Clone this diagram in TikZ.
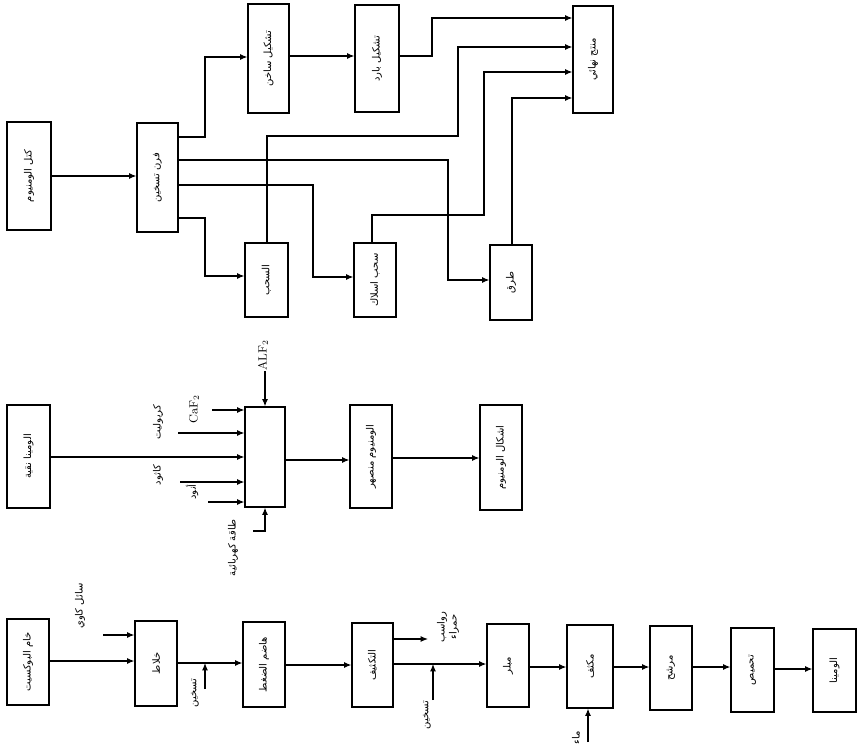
\documentclass[tikz,border=0pt]{standalone}
\usepackage{fontspec}
\usetikzlibrary{arrows.meta}
\newfontfamily\arfont[Script=Arabic]{DejaVu Sans}
\TeXXeTstate=1
\newcommand\artx[1]{\beginR #1\endR}
\newcommand\mkbox[5]{\node[box, minimum width={(#4-#2)*0.75pt}, minimum height={(#5-#3)*0.75pt}] (#1) at ({(#2+#4)/2},{(#3+#5)/2}) {};}
\begin{document}
\begin{tikzpicture}[x=0.75pt,y=-0.75pt,
  box/.style={draw, line width=0.9pt, inner sep=0pt},
  ln/.style={line width=0.9pt},
  arr/.style={line width=0.9pt, -{Latex[length=5.5pt,width=4.5pt]}},
  txt/.style={rotate=90, font=\arfont\fontsize{7.5}{9}\selectfont, inner sep=1pt, align=center},
  lat/.style={rotate=90, font=\fontsize{9}{10}\selectfont, inner sep=1pt}]
\useasboundingbox[fill=white] (0,0) rectangle (857,756);

% ---------- top row ----------
\mkbox{ingot}{7}{122}{51}{230}
\mkbox{furn}{137}{123}{178}{232}
\mkbox{hot}{248}{4}{289}{113}
\mkbox{cold}{355}{5}{399}{112}
\mkbox{final}{573}{6}{613}{113}
\mkbox{drw}{245}{243}{288}{317}
\mkbox{wire}{354}{243}{396}{317}
\mkbox{forge}{490}{245}{532}{320}
\node[txt] (ingotT) at (ingot.center) {\artx{كتل الومنيوم}};
\node[txt] (furnT) at (furn.center) {\artx{فرن تسخين}};
\node[txt] (hotT) at (hot.center) {\artx{تشكيل ساخن}};
\node[txt] (coldT) at (cold.center) {\artx{تشكيل بارد}};
\node[txt] (finalT) at (final.center) {\artx{منتج نهائي}};
\node[txt] (drwT) at (drw.center) {\artx{السحب}};
\node[txt] (wireT) at (wire.center) {\artx{سحب اسلاك}};
\node[txt] (forgeT) at (forge.center) {\artx{طرق}};

\draw[arr] (ingot.east |- 0,176) -- (furn.west |- 0,176);
\draw[arr] (furn.east |- 0,137) -- (205,137) -- (205,57) -- (hot.west |- 0,57);
\draw[arr] (furn.east |- 0,218) -- (205,218) -- (205,276) -- (drw.west |- 0,276);
\draw[arr] (furn.east |- 0,160) -- (448,160) -- (448,280) -- (forge.west |- 0,280);
\draw[arr] (furn.east |- 0,185) -- (313,185) -- (313,277) -- (wire.west |- 0,277);
\draw[arr] (hot.east |- 0,56) -- (cold.west |- 0,56);
\draw[arr] (cold.east |- 0,56) -- (432,56) -- (432,18) -- (final.west |- 0,18);
\draw[arr] (drw.north -| 267,0) -- (267,136) -- (458,136) -- (458,47) -- (final.west |- 0,47);
\draw[arr] (wire.north -| 372,0) -- (372,215) -- (484,215) -- (484,72) -- (final.west |- 0,72);
\draw[arr] (forge.north -| 512,0) -- (512,98) -- (final.west |- 0,98);

% ---------- middle row ----------
\mkbox{pure}{7}{405}{50}{508}
\mkbox{cell}{245}{407}{285}{507}
\mkbox{molten}{350}{405}{392}{508}
\mkbox{shapes}{480}{405}{522}{510}
\node[txt] (pureT) at (pure.center) {\artx{الومينا نقية}};
\node[txt] (moltenT) at (molten.center) {\artx{الومنيوم منصهر}};
\node[txt] (shapesT) at (shapes.center) {\artx{اشكال الومنيوم}};

\coordinate (i1) at (212,410);
\coordinate (i2) at (178,433);
\coordinate (i3) at (180,482);
\coordinate (i4) at (208,502);
\coordinate (itop) at (265,371);
\coordinate (ibot) at (253,531);
\draw[arr] (pure.east |- 0,457) -- (cell.west |- 0,457);
\draw[arr] (i1) -- (cell.west |- i1);
\draw[arr] (i2) -- (cell.west |- i2);
\draw[arr] (i3) -- (cell.west |- i3);
\draw[arr] (i4) -- (cell.west |- i4);
\draw[arr] (itop) -- (cell.north -| itop);
\draw[arr] (ibot) -- (265,531) -- (cell.south -| 265,0);
\draw[arr] (cell.east |- 0,460) -- (molten.west |- 0,460);
\draw[arr] (molten.east |- 0,458) -- (shapes.west |- 0,458);

\node[lat] (alf) at (263,355) {ALF$_2$};
\node[lat] (caf) at (194,409) {CaF$_2$};
\node[txt] (cryo) at (158,422) {\artx{كريوليت}};
\node[txt] (cath) at (158,475) {\artx{كاثود}};
\node[txt] (anod) at (192,492) {\artx{أنود}};
\node[txt] (elec) at (233,548) {\artx{طاقة كهربائية}};

% ---------- bottom row ----------
\mkbox{baux}{7}{619}{49}{705}
\mkbox{mix}{135}{621}{177}{706}
\mkbox{dig}{243}{622}{285}{707}
\mkbox{thk}{352}{623}{393}{707}
\mkbox{cry}{487}{624}{529}{707}
\mkbox{cond}{567}{625}{613}{708}
\mkbox{filt}{650}{626}{692}{710}
\mkbox{calc}{731}{628}{774}{712}
\mkbox{alu}{813}{629}{856}{712}
\node[txt] (bauxT) at (baux.center) {\artx{خام البوكسيت}};
\node[txt] (mixT) at (mix.center) {\artx{خلاط}};
\node[txt] (digT) at (dig.center) {\artx{هاضم الضغط}};
\node[txt] (thkT) at (thk.center) {\artx{التكثيف}};
\node[txt] (cryT) at (cry.center) {\artx{مبلر}};
\node[txt] (condT) at (cond.center) {\artx{مكثف}};
\node[txt] (filtT) at (filt.center) {\artx{مرشح}};
\node[txt] (calcT) at (calc.center) {\artx{تحميص}};
\node[txt] (aluT) at (alu.center) {\artx{الومينا}};

\coordinate (soda) at (103,635);
\coordinate (heat1) at (205,689);
\coordinate (mud) at (428,639);
\coordinate (heat2) at (433,700);
\coordinate (water) at (588,742);
\draw[arr] (baux.east |- 0,661) -- (mix.west |- 0,661);
\draw[arr] (soda) -- (mix.west |- soda);
\draw[arr] (mix.east |- 0,663) -- (dig.west |- 0,663);
\draw[arr] (heat1) -- (heat1 |- 0,663);
\draw[arr] (dig.east |- 0,665) -- (thk.west |- 0,665);
\draw[arr] (thk.east |- mud) -- (mud);
\draw[arr] (thk.east |- 0,664) -- (cry.west |- 0,664);
\draw[arr] (heat2) -- (heat2 |- 0,664);
\draw[arr] (cry.east |- 0,667) -- (cond.west |- 0,667);
\draw[arr] (water) -- (cond.south -| water);
\draw[arr] (cond.east |- 0,667) -- (filt.west |- 0,667);
\draw[arr] (filt.east |- 0,667) -- (calc.west |- 0,667);
\draw[arr] (calc.east |- 0,669) -- (alu.west |- 0,669);

\node[txt] (sodaT) at (80,606) {\artx{سائل كاوي}};
\node[txt] (heat1T) at (195,693) {\artx{تسخين}};
\node[txt] (mudT) at (448,627) {\artx{رواسب}\\\artx{حمراء}};
\node[txt] (heat2T) at (427,715) {\artx{تسخين}};
\node[txt] (waterT) at (576,738) {\artx{ماء}};
\end{tikzpicture}
\end{document}
